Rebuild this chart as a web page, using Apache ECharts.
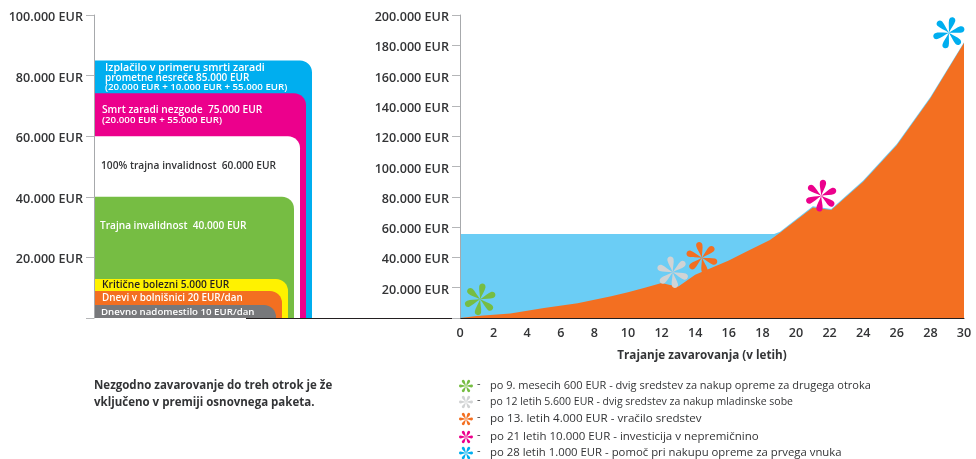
<!DOCTYPE html>
<html>
<head>
<meta charset="utf-8">
<style>
html, body { margin: 0; padding: 0; background: #fff; }
#chart { width: 976px; height: 459px; }
</style>
<script src="https://cdn.jsdelivr.net/npm/echarts@6/dist/echarts.min.js"></script>
</head>
<body>
<div id="chart"></div>
<script>
var font = '"Open Sans", sans-serif';
var dark = '#333436';

// left chart: benefit tiers, tallest first
var tierValues = [85000, 74200, 60000, 40000, 12900, 8900, 4300];
var tierColors = ['#00aeef', '#ec008c', '#ffffff', '#76bd43', '#fff200', '#f36f21', '#77787b'];

// right chart
var savingsPoints = [[0, 55500], [18.7, 55500], [19.05, 57000], [21, 73800], [22.1, 72000], [24, 90800], [26, 114800], [28, 145800], [30, 182000]];
var paidPoints = [[0, 0], [1, 1400], [3, 2900], [5, 6600], [7, 9700], [9, 14300], [10, 17000], [11, 20000], [12, 23100], [12.5, 21800], [13, 20800], [14, 28500], [16, 38000], [17, 43500], [18.45, 51500], [19.05, 56300], [21, 73000], [22.1, 71300], [24, 90000], [26, 114000], [28, 145000], [30, 181500]];
var flowerPoints = [[1.2, 12300], [12.66, 30200], [14.4, 39800], [21.5, 80700], [29.1, 188300]];
var flowerColors = ['#76bd43', '#d1d3d4', '#f36f21', '#ec008c', '#00aeef'];
var flowerTurns = [-10, 10, 12, -8, -15];

var legendTexts = [
    'po 9. mesecih 600 EUR - dvig sredstev za nakup opreme za drugega otroka',
    'po 12 letih 5.600 EUR - dvig sredstev za nakup mladinske sobe',
    'po 13. letih 4.000 EUR - vračilo sredstev',
    'po 21 letih 10.000 EUR - investicija v nepremičnino',
    'po 28 letih 1.000 EUR - pomoč pri nakupu opreme za prvega vnuka'
];
var noteLines = ['Nezgodno zavarovanje do treh otrok je že', 'vključeno v premiji osnovnega paketa.'];

function eurLabel(v) {
    if (v === 0) return '';
    return '{t|' + String(v).replace(/\B(?=(\d{3})+$)/g, '.') + ' EUR}';
}

// six teardrop petals around 0,0
function flowerPath() {
    var petal = [[0, 0], [-3, -15], [-10, -30], [-10, -40], [-10, -54], [10, -54], [10, -40], [10, -30], [3, -15], [0, 0]];
    var d = '';
    for (var k = 0; k < 6; k++) {
        var a = k * Math.PI / 3, c = Math.cos(a), s = Math.sin(a);
        var p = petal.map(function (q) {
            return (q[0] * c - q[1] * s + 60).toFixed(1) + ' ' + (q[0] * s + q[1] * c + 60).toFixed(1);
        });
        d += 'M' + p[0] + ' C' + p[1] + ' ' + p[2] + ' ' + p[3] + ' C' + p[4] + ' ' + p[5] + ' ' + p[6] + ' C' + p[7] + ' ' + p[8] + ' ' + p[9] + ' Z ';
    }
    return d;
}
var flower = flowerPath();

function txt(x, y, text, size, color, weight) {
    return {
        type: 'text', x: x, y: y, z: 20,
        style: { text: text, fontFamily: font, fontSize: size, fontWeight: weight || 'normal', fill: color, textVerticalAlign: 'middle' }
    };
}

var graphics = [
    { type: 'line', z: 1, shape: { x1: 246, y1: 318.5, x2: 461, y2: 318.5 }, style: { stroke: '#231f20', lineWidth: 1 } },
    txt(105, 68, 'Izplačilo v primeru smrti zaradi', 10.7, '#fff', 600),
    txt(105, 78, 'prometne nesreče 85.000 EUR', 10, '#fff', 600),
    txt(105, 87.5, '(20.000 EUR + 10.000 EUR + 55.000 EUR)', 9.7, '#fff', 600),
    txt(102, 110, 'Smrt zaradi nezgode  75.000 EUR', 10.2, '#fff', 600),
    txt(102, 120.5, '(20.000 EUR + 55.000 EUR)', 9.7, '#fff', 600),
    txt(101, 166.5, '100% trajna invalidnost  60.000 EUR', 10.2, dark, 600),
    txt(100, 226, 'Trajna invalidnost  40.000 EUR', 10.1, '#fff', 600),
    txt(102, 285.5, 'Kritične bolezni 5.000 EUR', 10.2, '#231f20', 600),
    txt(102, 298.5, 'Dnevi v bolnišnici 20 EUR/dan', 9.9, '#fff', 600),
    txt(101, 312.5, 'Dnevno nadomestilo 10 EUR/dan', 9.7, '#fff', 600),
    txt(94, 386, noteLines[0], 11.5, dark, 700),
    txt(94, 403, noteLines[1], 11.5, dark, 700)
];
var legendRows = [386, 402, 419, 437, 453];
var legendSizes = [11, 10.5, 11.6, 11.5, 11.35];
legendTexts.forEach(function (t, i) {
    graphics.push(txt(490, legendRows[i], t, legendSizes[i], dark));
    graphics.push(txt(477, legendRows[i] - 2, '-', 11, dark));
});

function valueAxis(idx, max, interval) {
    return {
        type: 'value', gridIndex: idx, min: 0, max: max, interval: interval, z: 5,
        axisLine: { show: true, lineStyle: { color: '#a7a9ac', width: 1 } },
        axisTick: { show: true, length: 8, lineStyle: { color: '#b5b6b8' } },
        splitLine: { show: false },
        axisLabel: {
            formatter: eurLabel, margin: 11,
            rich: { t: { padding: [5, 0, 0, 0], fontFamily: font, fontSize: 12.6, fontWeight: 600, color: dark } }
        }
    };
}

var chart = echarts.init(document.getElementById('chart'));
chart.setOption({
    animation: false,
    backgroundColor: '#fff',
    grid: [
        { left: 94, top: 15, width: 218, height: 303 },
        { left: 460, top: 15, width: 504, height: 303 },
        // key flowers, y scale is the text row in page pixels
        { left: 466, top: 386, width: 1, height: 67 }
    ],
    xAxis: [
        { type: 'value', gridIndex: 0, min: 0, max: 7, show: false },
        {
            type: 'value', gridIndex: 1, min: 0, max: 30, interval: 2,
            axisLine: { show: true, onZero: false, lineStyle: { color: '#231f20', width: 1 } },
            axisTick: { show: false },
            splitLine: { show: false },
            axisLabel: { margin: 9, fontFamily: font, fontSize: 12.6, fontWeight: 600, color: dark },
            name: 'Trajanje zavarovanja (v letih)',
            nameLocation: 'middle',
            nameGap: 32,
            nameTextStyle: { fontFamily: font, fontSize: 11.7, fontWeight: 700, color: dark, padding: [0, 20, 0, 0] }
        },
        { type: 'value', gridIndex: 2, min: 0, max: 1, show: false }
    ],
    yAxis: [
        valueAxis(0, 100000, 20000),
        valueAxis(1, 200000, 20000),
        { type: 'value', gridIndex: 2, min: 386, max: 453, inverse: true, show: false }
    ],
    graphic: graphics,
    series: [
        {
            type: 'custom', xAxisIndex: 0, yAxisIndex: 0, z: 2,
            data: tierValues.map(function (v, i) { return [i, v]; }),
            renderItem: function (params, api) {
                var rank = api.value(0);
                var top = api.coord([0, api.value(1)]);
                var base = api.coord([0, 0]);
                var width = 217 - rank * 6;
                return {
                    type: 'rect',
                    shape: { x: top[0] + 1, y: top[1], width: width, height: base[1] - top[1], r: [0, 12, 0, 0] },
                    style: { fill: tierColors[rank] }
                };
            }
        },
        {
            type: 'line', xAxisIndex: 1, yAxisIndex: 1, z: 2, data: savingsPoints, symbol: 'none',
            lineStyle: { width: 0 }, areaStyle: { color: '#6bcdf5', opacity: 1 }
        },
        {
            type: 'line', xAxisIndex: 1, yAxisIndex: 1, z: 3, data: paidPoints, symbol: 'none',
            lineStyle: { width: 0 }, areaStyle: { color: '#f36f21', opacity: 1 }
        },
        {
            type: 'scatter', xAxisIndex: 1, yAxisIndex: 1, z: 6,
            symbol: 'path://' + flower, symbolSize: 32, symbolKeepAspect: true,
            data: flowerPoints.map(function (p, i) {
                return {
                    value: p,
                    symbolRotate: flowerTurns[i],
                    itemStyle: { color: flowerColors[i], opacity: 1 }
                };
            })
        },
        {
            type: 'scatter', xAxisIndex: 2, yAxisIndex: 2, z: 6,
            symbol: 'path://' + flower, symbolSize: 14, symbolKeepAspect: true, symbolRotate: 90,
            data: legendRows.map(function (r, i) {
                return { value: [0, r], itemStyle: { color: flowerColors[i], opacity: 1 } };
            })
        }
    ]
});
</script>
</body>
</html>
